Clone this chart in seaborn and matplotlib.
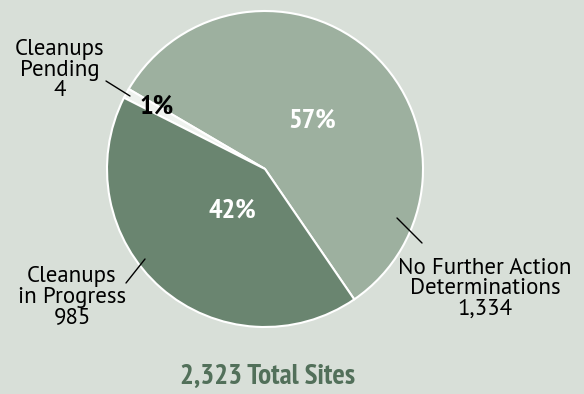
import matplotlib
matplotlib.use("Agg")
import matplotlib.pyplot as plt
import seaborn as sns
from matplotlib import font_manager

sns.set_theme(style="white")

categories = ["No Further Action\nDeterminations", "Cleanups\nPending", "Cleanups\nin Progress"]
counts = [1334, 4, 985]
percents = [57, 1, 42]
count_labels = ["1,334", "4", "985"]
total_label = "2,323 Total Sites"

names = {f.name for f in font_manager.fontManager.ttflist}
cond = "PT Sans Narrow" if "PT Sans Narrow" in names else "DejaVu Sans"
reg = "PT Sans" if "PT Sans" in names else ("Lato" if "Lato" in names else "DejaVu Sans")

BG = "#d8dfd8"
colors = ["#9db09f", "#eef2ee", "#6a8570"]

W, H = 584, 394
fig = plt.figure(figsize=(W / 100, H / 100), dpi=100, facecolor=BG)
ax = fig.add_axes([0, 0, 1, 1])
ax.set_facecolor(BG)

def py(y):
    return H - y

cx, cy, r = 265, 169, 158
ax.pie(percents, colors=colors, startangle=-55.6, counterclock=True,
       center=(cx, py(cy)), radius=r,
       wedgeprops=dict(edgecolor="white", linewidth=1.5), frame=True)
ax.set_xlim(0, W)
ax.set_ylim(0, H)
ax.set_aspect("equal")
ax.axis("off")

# percent labels
pk = dict(fontsize=20.5, fontweight="bold", family=cond, ha="center", va="center")
ax.text(312, py(121), f"{percents[0]}%", color="white", **pk)
ax.text(232, py(211), f"{percents[2]}%", color="white", **pk)
ax.text(157, py(107), f"{percents[1]}%", color="black", **pk)

# outer labels
lk = dict(ha="center", va="center", fontsize=16.5, family=reg, color="black", linespacing=0.95)
ax.text(60, py(70), f"{categories[1]}\n{count_labels[1]}", **lk)
ax.plot([106, 130], [py(81), py(96)], color="black", lw=1)

ax.text(72, py(297), f"{categories[2]}\n{count_labels[2]}", **lk)
ax.plot([126, 145], [py(283), py(259)], color="black", lw=1)

ax.text(485, py(289), f"{categories[0]}\n{count_labels[0]}", **lk)
ax.plot([397, 422], [py(218), py(243)], color="black", lw=1)

ax.text(268, py(377), total_label, ha="center", va="center", fontsize=21,
        fontweight="bold", family=cond, color="#52705a")

fig.savefig("out.png", dpi=100, facecolor=BG)
